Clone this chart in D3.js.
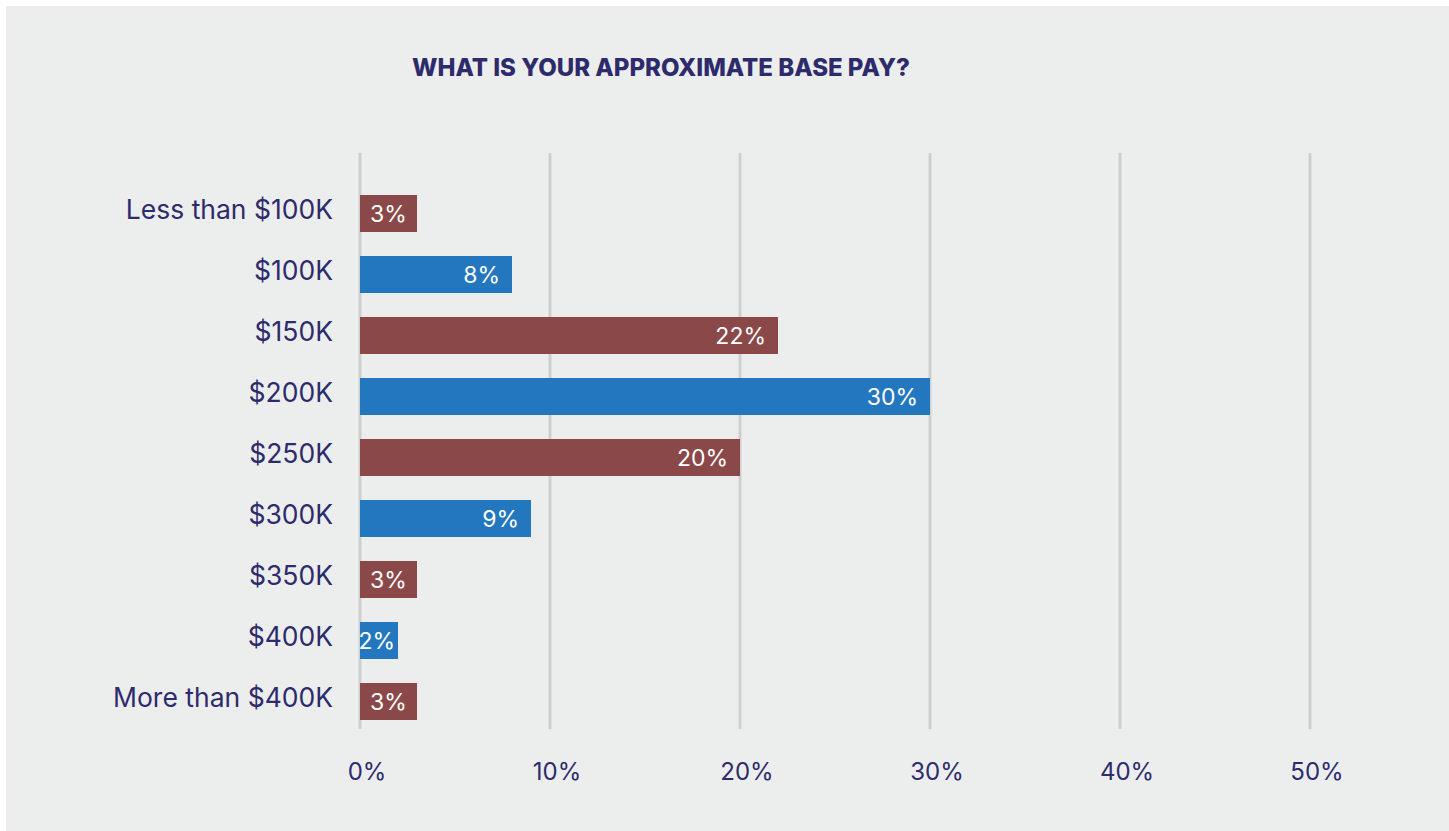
<!DOCTYPE html>
<html>
<head>
<meta charset="utf-8">
<script src="https://cdn.jsdelivr.net/npm/d3@7"></script>
<style>
  html, body { margin: 0; padding: 0; background: #ffffff; }
  svg { display: block; }
</style>
</head>
<body>
<svg id="chart" width="1449" height="831"></svg>
<script>
// Survey responses: approximate base pay
const categories = ["Less than $100K", "$100K", "$150K", "$200K", "$250K", "$300K", "$350K", "$400K", "More than $400K"];
const shares = [3, 8, 22, 30, 20, 9, 3, 2, 3];
const barColors = ["#8b4849", "#2377bf"];
const tickValues = [0, 10, 20, 30, 40, 50];
const title = "WHAT IS YOUR APPROXIMATE BASE PAY?";

const svg = d3.select("#chart");
const ink = "#2e2b6c";
const font = "Inter, Lato, sans-serif";

// panel background
svg.append("rect")
  .attr("x", 6).attr("y", 6)
  .attr("width", 1443).attr("height", 825)
  .attr("fill", "#eceeed");

svg.append("text")
  .attr("x", 661).attr("y", 76)
  .attr("text-anchor", "middle")
  .attr("font-family", font)
  .attr("font-weight", 800)
  .attr("font-size", 24)
  .attr("fill", ink)
  .text(title);

const x = d3.scaleLinear().domain([0, 50]).range([360, 1310]);
const y = d3.scaleBand()
  .domain(categories)
  .range([183, 732])
  .paddingInner(24 / 61)
  .paddingOuter(12 / 61);

// vertical gridlines
svg.append("g")
  .selectAll("line")
  .data(tickValues)
  .join("line")
  .attr("x1", d => x(d)).attr("x2", d => x(d))
  .attr("y1", 153).attr("y2", 729)
  .attr("stroke", "#cfcfcf")
  .attr("stroke-width", 3);

// tick labels
svg.append("g")
  .selectAll("text")
  .data(tickValues)
  .join("text")
  .attr("x", d => x(d) + 7)
  .attr("y", 780)
  .attr("text-anchor", "middle")
  .attr("font-family", font)
  .attr("font-size", 24)
  .attr("fill", ink)
  .text(d => d + "%");

// bars
svg.append("g")
  .selectAll("rect")
  .data(categories)
  .join("rect")
  .attr("x", x(0))
  .attr("y", d => y(d))
  .attr("width", (d, i) => x(shares[i]) - x(0))
  .attr("height", y.bandwidth())
  .attr("fill", (d, i) => barColors[i % 2]);

// category labels
svg.append("g")
  .selectAll("text")
  .data(categories)
  .join("text")
  .attr("x", 333)
  .attr("y", d => y(d) + y.bandwidth() / 2 + 5)
  .attr("text-anchor", "end")
  .attr("font-family", font)
  .attr("font-size", 26.5)
  .attr("fill", ink)
  .text(d => d);

// value labels inside bars, pulled in from the bar end but kept inside short bars
svg.append("g")
  .selectAll("text")
  .data(categories)
  .join("text")
  .attr("y", d => y(d) + y.bandwidth() / 2 + 8)
  .attr("text-anchor", "end")
  .attr("font-family", font)
  .attr("font-size", 23)
  .attr("fill", "#ffffff")
  .text((d, i) => shares[i] + "%")
  .attr("x", function (d, i) {
    const end = x(shares[i]);
    const w = this.getComputedTextLength();
    const room = end - x(0) - w;
    const pad = Math.max(3, Math.min(12, room / 2));
    return end - pad;
  });
</script>
</body>
</html>
